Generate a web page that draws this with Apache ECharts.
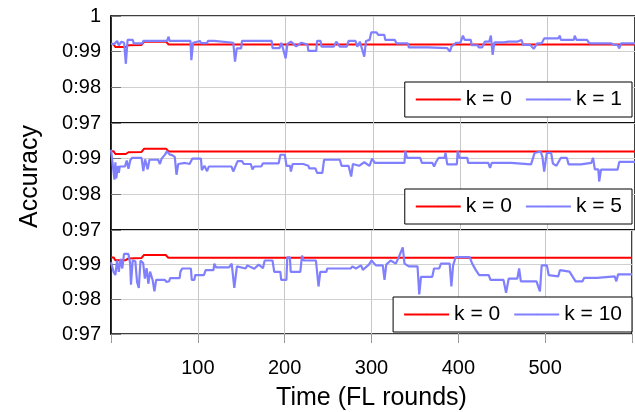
<!DOCTYPE html>
<html>
<head>
<meta charset="utf-8">
<script src="https://cdn.jsdelivr.net/npm/echarts@6/dist/echarts.min.js"></script>
<style>html,body{margin:0;padding:0;background:#fff}#c{width:635px;height:412px}</style>
</head>
<body>
<div id="c"></div>
<script>
// x tick labels / categories
const xTicks = [100, 200, 300, 400, 500];
const yTicks = [0.97, 0.98, 0.99, 1];
const legendNames = [['k = 0', 'k = 1'], ['k = 0', 'k = 5'], ['k = 0', 'k = 10']];

// k = 0 baseline (same in all panels): [round, accuracy]
const k0 = [[0,0.9921],[3,0.9921],[5,0.9913],[9,0.9913],[17,0.9913],[19,0.9908],[20,0.9918],[35,0.9919],[38,0.9928],[63,0.9928],[66,0.9920],[600,0.9920]];

// k = 1
const k1 = [[0,0.9922],[4,0.9922],[7,0.9930],[9,0.9918],[12,0.9928],[15,0.9925],[17,0.9866],[19,0.9933],[25,0.9933],[26,0.9923],[36,0.9923],[37,0.9930],[64,0.9930],[66,0.9942],[67,0.9930],[91,0.9930],[92,0.9876],[94,0.9925],[95,0.9928],[102,0.9930],[103,0.9924],[110,0.9924],[111,0.9930],[118,0.9930],[120,0.9925],[140,0.9925],[142,0.9872],[144,0.9909],[149,0.9909],[150,0.9930],[184,0.9930],[185,0.9910],[193,0.9910],[195,0.9925],[198,0.9900],[200,0.9881],[202,0.9922],[206,0.9928],[212,0.9915],[218,0.9925],[225,0.9920],[226,0.9902],[235,0.9902],[236,0.9930],[240,0.9930],[241,0.9914],[255,0.9914],[258,0.9928],[262,0.9914],[270,0.9914],[272,0.9930],[280,0.9930],[282,0.9914],[285,0.9928],[290,0.9886],[292,0.9930],[296,0.9933],[298,0.9954],[304,0.9954],[306,0.9947],[313,0.9947],[314,0.9933],[325,0.9933],[327,0.9923],[340,0.9923],[341,0.9912],[363,0.9912],[365,0.9910],[385,0.9910],[388,0.9900],[390,0.9915],[395,0.9925],[400,0.9925],[403,0.9945],[405,0.9933],[412,0.9933],[413,0.9918],[420,0.9918],[421,0.9912],[425,0.9912],[428,0.9928],[433,0.9928],[435,0.9945],[437,0.9891],[439,0.9926],[450,0.9926],[455,0.9928],[465,0.9928],[466,0.9923],[470,0.9933],[472,0.9919],[480,0.9919],[484,0.9908],[488,0.9923],[493,0.9923],[496,0.9937],[512,0.9937],[514,0.9945],[515,0.9933],[530,0.9933],[531,0.9945],[533,0.9933],[545,0.9933],[548,0.9923],[573,0.9923],[576,0.9919],[580,0.9919],[582,0.9909],[584,0.9923],[600,0.9923]];

// k = 5
const k5 = [[0,0.9925],[2,0.9928],[4,0.9841],[5,0.9890],[6,0.9845],[8,0.9880],[9,0.9860],[10,0.9878],[16,0.9878],[18,0.9895],[20,0.9872],[22,0.9895],[24,0.9902],[35,0.9902],[37,0.9865],[39,0.9898],[41,0.9898],[42,0.9870],[44,0.9897],[54,0.9897],[56,0.9885],[58,0.9900],[62,0.9912],[64,0.9921],[67,0.9912],[70,0.9910],[73,0.9905],[75,0.9855],[77,0.9885],[85,0.9888],[90,0.9885],[93,0.9900],[103,0.9900],[104,0.9868],[107,0.9880],[110,0.9865],[112,0.9878],[125,0.9878],[138,0.9878],[140,0.9864],[142,0.9864],[145,0.9893],[150,0.9893],[152,0.9885],[160,0.9885],[162,0.9870],[164,0.9878],[172,0.9878],[174,0.9887],[192,0.9887],[194,0.9911],[199,0.9911],[201,0.9880],[205,0.9880],[206,0.9864],[208,0.9885],[220,0.9885],[226,0.9880],[227,0.9873],[234,0.9873],[236,0.9860],[242,0.9860],[244,0.9897],[262,0.9897],[264,0.9880],[272,0.9880],[275,0.9850],[277,0.9885],[284,0.9880],[290,0.9890],[296,0.9880],[299,0.9900],[302,0.9888],[336,0.9888],[337,0.9921],[339,0.9902],[354,0.9902],[356,0.9888],[368,0.9888],[370,0.9878],[372,0.9890],[375,0.9902],[382,0.9902],[383,0.9917],[385,0.9884],[396,0.9884],[397,0.9921],[399,0.9902],[408,0.9902],[409,0.9888],[432,0.9888],[434,0.9874],[436,0.9888],[458,0.9888],[460,0.9884],[481,0.9884],[485,0.9916],[492,0.9920],[494,0.9905],[496,0.9864],[499,0.9916],[504,0.9916],[506,0.9886],[510,0.9880],[515,0.9902],[522,0.9902],[524,0.9884],[538,0.9884],[540,0.9888],[550,0.9888],[552,0.9902],[554,0.9870],[558,0.9870],[559,0.9836],[561,0.9869],[580,0.9869],[582,0.9891],[600,0.9891]];

// k = 10
const k10 = [[0,0.9907],[3,0.9879],[5,0.9870],[7,0.9912],[9,0.9879],[11,0.9917],[13,0.9889],[15,0.9931],[20,0.9931],[22,0.9905],[23,0.9842],[25,0.9912],[28,0.9910],[30,0.9850],[32,0.9833],[34,0.9912],[37,0.9905],[39,0.9860],[41,0.9890],[43,0.9845],[45,0.9880],[48,0.9855],[50,0.9823],[52,0.9856],[62,0.9856],[64,0.9850],[67,0.9852],[68,0.9861],[79,0.9861],[80,0.9880],[82,0.9889],[92,0.9889],[93,0.9856],[96,0.9856],[97,0.9870],[107,0.9870],[109,0.9884],[118,0.9884],[119,0.9903],[121,0.9892],[136,0.9892],[139,0.9903],[142,0.9833],[144,0.9833],[145,0.9895],[155,0.9889],[157,0.9898],[165,0.9888],[170,0.9900],[175,0.9890],[177,0.9912],[186,0.9912],[188,0.9879],[195,0.9879],[196,0.9856],[202,0.9856],[203,0.9921],[206,0.9921],[207,0.9879],[218,0.9879],[220,0.9926],[222,0.9912],[236,0.9912],[239,0.9837],[241,0.9879],[248,0.9879],[249,0.9889],[276,0.9889],[278,0.9895],[282,0.9889],[288,0.9898],[290,0.9885],[297,0.9900],[300,0.9912],[305,0.9898],[313,0.9898],[315,0.9856],[317,0.9900],[322,0.9912],[328,0.9903],[332,0.9925],[336,0.9950],[338,0.9903],[343,0.9895],[353,0.9895],[355,0.9814],[357,0.9865],[370,0.9865],[372,0.9889],[378,0.9889],[380,0.9903],[390,0.9903],[392,0.9837],[394,0.9898],[397,0.9922],[413,0.9922],[416,0.9903],[420,0.9885],[424,0.9870],[435,0.9870],[437,0.9856],[452,0.9856],[455,0.9819],[458,0.9860],[468,0.9860],[470,0.9889],[472,0.9852],[490,0.9852],[494,0.9823],[496,0.9898],[502,0.9898],[504,0.9870],[515,0.9866],[517,0.9884],[528,0.9880],[530,0.9872],[535,0.9852],[543,0.9852],[545,0.9862],[560,0.9862],[562,0.9866],[580,0.9866],[582,0.9852],[584,0.9872],[600,0.9872]];

const blues = [k1, k5, k10];
const FONT = 'Liberation Sans, Arial, sans-serif';
const chart = echarts.init(document.getElementById('c'), null, {renderer: 'canvas'});

const panelTop = [16, 123, 230];
const panelH = 107;
const grids = [], xAxes = [], yAxes = [], series = [], legends = [];
const legendTop = [82, 189, 297];

for (let i = 0; i < 3; i++) {
  grids.push({left: 111, right: 0, top: panelTop[i], height: panelH, show: true,
    borderColor: '#000', borderWidth: 1.5, backgroundColor: 'transparent'});
  const bottom = i === 2;
  xAxes.push({type: 'value', gridIndex: i, min: 0, max: 600, interval: 100,
    axisLine: {show: false},
    axisTick: {show: bottom, inside: false, length: 9, lineStyle: {color: '#999'}},
    splitLine: {show: true, lineStyle: {color: '#c8c8c8', width: 1}},
    axisLabel: {show: bottom, margin: 24, fontSize: 20, color: '#000', fontFamily: FONT,
      formatter: v => xTicks.indexOf(Math.round(v)) >= 0 ? String(Math.round(v)) : ''},
    name: bottom ? 'Time (FL rounds)' : '', nameLocation: 'middle', nameGap: 52,
    nameTextStyle: {fontSize: 25, color: '#000', fontFamily: FONT}
  });
  yAxes.push({type: 'value', gridIndex: i, min: yTicks[0], max: yTicks[yTicks.length - 1], interval: 0.01,
    axisLine: {show: true, lineStyle: {color: '#000', width: 1.5}},
    axisTick: {show: true, inside: true, length: 10, lineStyle: {color: '#777'}},
    splitLine: {show: true, lineStyle: {color: '#d0d0d0', width: 1}},
    axisLabel: {margin: 10, fontSize: 20, color: '#000', fontFamily: FONT,
      formatter: v => {
        const r = Math.round(v * 100);
        if (r === 100) return i === 0 ? '1' : '';
        return '0:' + r;
      }},
    name: i === 1 ? 'Accuracy' : '', nameLocation: 'middle', nameGap: 68, nameRotate: 90,
    nameTextStyle: {fontSize: 25, color: '#000', fontFamily: FONT}
  });
  series.push({name: legendNames[i][0], type: 'line', xAxisIndex: i, yAxisIndex: i, data: k0,
    symbol: 'none', lineStyle: {color: '#ff0000', width: 2}, itemStyle: {color: '#ff0000'}, z: 3});
  series.push({name: legendNames[i][1], type: 'line', xAxisIndex: i, yAxisIndex: i, data: blues[i],
    symbol: 'none', lineStyle: {color: '#8080ff', width: 2.2}, itemStyle: {color: '#8080ff'}, z: 4});
  legends.push({data: legendNames[i], right: 3, top: legendTop[i], orient: 'horizontal',
    backgroundColor: '#fff', borderColor: '#000', borderWidth: 1, padding: [7, 10],
    itemWidth: 45, itemHeight: 2, itemGap: 13, selectedMode: false,
    textStyle: {fontSize: 21, color: '#000', fontFamily: FONT}});
}

chart.setOption({
  animation: false,
  backgroundColor: '#fff',
  grid: grids, xAxis: xAxes, yAxis: yAxes, series: series, legend: legends
});
</script>
</body>
</html>
